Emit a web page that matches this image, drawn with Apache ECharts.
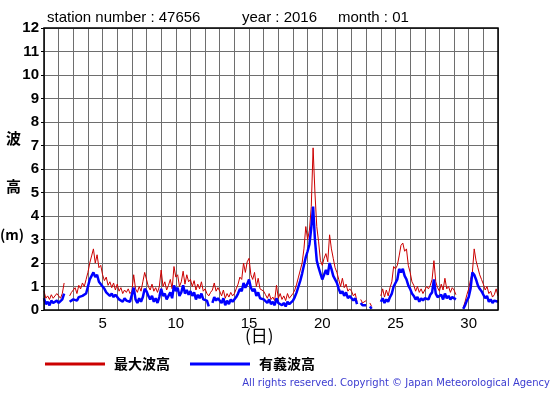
<!DOCTYPE html>
<html><head><meta charset="utf-8">
<script src="https://cdn.jsdelivr.net/npm/echarts@6/dist/echarts.min.js"></script>
<style>html,body{margin:0;padding:0;background:#fff}#c{width:555px;height:395px}</style>
</head><body><div id="c"></div>
<script>
// 3-hourly samples starting at day 1.000 (8 per day), last value at day 32.0
const startDay = 1;
const perDay = 8;
const maxWave = [
 0.8,0.5,0.6,0.45,0.65,0.5,0.55,0.7,
 0.6,0.5,0.7,1.15,null,null,0.6,0.75,
 0.8,0.95,0.7,1.05,0.9,1.15,1.0,1.3,
 1.6,2.0,2.3,2.6,2.0,2.35,1.8,1.9,
 1.5,1.25,1.4,1.05,1.2,0.95,1.15,0.85,
 1.1,0.8,0.95,0.7,0.85,0.75,0.9,0.7,
 0.8,1.5,0.9,0.75,1.0,0.8,1.2,1.6,
 1.65,1.0,0.85,1.1,0.8,0.95,0.75,1.0,
 1.7,1.0,1.2,0.85,1.05,1.3,0.9,1.85,
 1.4,1.5,1.0,1.2,1.65,1.1,1.5,1.2,
 1.3,1.0,1.25,0.85,1.1,0.9,1.2,0.8,
 0.9,0.7,0.6,0.75,0.85,1.15,0.8,0.95,
 0.8,0.6,0.85,0.5,0.7,0.55,0.75,0.6,
 0.7,0.9,1.1,1.4,1.3,2.0,1.6,2.05,
 2.2,1.5,1.3,1.6,1.0,1.35,0.9,0.85,
 0.8,0.65,0.5,0.7,0.45,0.55,0.4,1.05,
 0.5,0.7,0.45,0.6,0.4,0.7,0.5,0.45,
 0.7,0.85,1.1,1.4,1.7,2.0,2.6,3.55,
 3.0,3.4,4.4,6.9,5.0,3.55,2.9,2.1,
 1.9,2.2,2.4,2.05,3.2,2.6,2.2,1.8,
 1.6,1.3,1.0,1.35,0.95,1.1,0.8,0.9,
 0.8,0.6,0.7,0.35,null,0.45,0.3,0.35,
 0.4,null,0.3,0.15,null,null,null,null,
 0.6,0.9,0.55,0.85,0.6,0.95,1.2,1.85,
 1.75,1.9,2.3,2.75,2.85,2.5,2.6,1.9,
 1.6,1.2,1.05,0.8,1.0,0.75,0.9,0.7,
 0.85,1.0,0.9,1.05,1.3,2.1,1.2,0.95,
 0.8,1.1,0.85,1.35,0.9,1.0,0.75,0.95,
 0.85,0.65,null,0.15,null,0.1,0.35,0.65,
 0.9,1.3,1.6,2.6,2.1,1.8,1.5,1.3,
 1.1,0.85,1.0,0.7,0.8,0.55,0.65,0.9,
 0.6
];
const sigWave = [
 0.5,0.25,0.35,0.2,0.4,0.3,0.35,0.4,
 0.3,0.35,0.45,0.7,null,null,0.35,0.4,
 0.45,0.5,0.4,0.55,0.5,0.6,0.55,0.7,
 1.0,1.3,1.45,1.6,1.4,1.5,1.2,1.15,
 1.0,0.9,0.75,0.8,0.6,0.7,0.55,0.65,
 0.55,0.45,0.5,0.35,0.5,0.4,0.45,0.35,
 0.4,0.95,0.45,0.3,0.5,0.35,0.55,0.9,
 0.8,0.6,0.45,0.6,0.35,0.5,0.3,0.55,
 0.9,0.6,0.7,0.45,0.6,0.75,0.5,1.05,
 0.8,0.95,0.6,0.75,1.05,0.7,0.85,0.65,
 0.8,0.6,0.75,0.45,0.65,0.5,0.7,0.45,
 0.5,0.4,0.15,null,0.3,0.55,0.4,0.5,
 0.45,0.3,0.5,0.2,0.4,0.25,0.45,0.35,
 0.4,0.55,0.7,0.9,0.8,1.15,0.95,1.1,
 1.3,0.95,0.8,0.9,0.6,0.75,0.5,0.55,
 0.45,0.4,0.3,0.45,0.25,0.35,0.2,0.5,
 0.3,0.35,0.2,0.3,0.15,0.35,0.25,0.2,
 0.4,0.55,0.75,1.0,1.25,1.55,1.9,2.25,
 2.5,2.8,3.5,4.4,3.0,2.1,1.8,1.55,
 1.3,1.5,1.7,1.5,2.0,1.75,1.45,1.3,
 1.15,0.9,0.7,0.8,0.6,0.75,0.5,0.6,
 0.55,0.4,0.5,0.25,null,0.3,0.2,0.25,
 0.2,null,0.15,0.05,null,null,null,null,
 0.35,0.5,0.3,0.45,0.35,0.55,0.7,1.0,
 1.05,1.3,1.75,1.6,1.75,1.45,1.3,1.05,
 0.9,0.7,0.6,0.45,0.55,0.35,0.5,0.4,
 0.5,0.55,0.45,0.65,0.75,1.3,0.7,0.55,
 0.5,0.65,0.45,0.7,0.5,0.6,0.45,0.55,
 0.5,0.45,null,0.1,null,0.05,0.2,0.4,
 0.55,0.9,1.6,1.5,1.3,1.05,0.9,0.8,
 0.65,0.5,0.6,0.35,0.45,0.3,0.4,0.45,
 0.35
];
const seriesNames = ['最大波高', '有義波高'];
const xLabelDays = [5, 10, 15, 20, 25, 30];
const titleParts = ['station number : 47656', 'year : 2016', 'month : 01'];
const yTitle = ['波', '高', '(m)'];
const xTitle = '(日)';
const copyright = 'All rights reserved. Copyright © Japan Meteorological Agency';

const toPts = arr => arr.map((v, i) => [startDay + i / perDay, v == null ? '-' : v]);
const chart = echarts.init(document.getElementById('c'), null, {renderer: 'canvas'});
const num = '"Liberation Sans", Arial, sans-serif';
const cjk = '"Noto Sans CJK JP", sans-serif';
chart.setOption({
  animation: false,
  backgroundColor: '#fff',
  grid: {left: 44, right: 57, top: 28, bottom: 85},
  xAxis: {
    type: 'value', min: 1, max: 32, interval: 1,
    axisLine: {show: false},
    axisTick: {show: false},
    splitLine: {show: true, lineStyle: {color: '#6e6e6e', width: 1}},
    axisLabel: {
      color: '#000', fontFamily: num, fontSize: 15, margin: 6,
      formatter: v => xLabelDays.includes(v) ? String(v) : ''
    }
  },
  yAxis: {
    type: 'value', min: 0, max: 12, interval: 1,
    axisLine: {show: false},
    axisTick: {show: true, length: 3, lineStyle: {color: '#000'}},
    splitLine: {show: true, lineStyle: {color: '#6e6e6e', width: 1}},
    axisLabel: {color: '#000', fontFamily: num, fontSize: 15, fontWeight: 'bold', margin: 5}
  },
  legend: {
    left: 45, top: 357, padding: 0, icon: 'rect', itemWidth: 60, itemHeight: 3, itemGap: 20,
    textStyle: {fontFamily: cjk, fontSize: 14, fontWeight: 'bold', color: '#000', padding: [0, 0, 0, 4]},
    data: seriesNames
  },
  series: [
    {name: seriesNames[0], type: 'line', data: toPts(maxWave), showSymbol: false,
     lineStyle: {color: '#cc0000', width: 1}, itemStyle: {color: '#cc0000'}, z: 2},
    {name: seriesNames[1], type: 'line', data: toPts(sigWave), showSymbol: false,
     lineStyle: {color: '#0000ff', width: 2.5}, itemStyle: {color: '#0000ff'}, z: 3}
  ],
  graphic: [
    {type: 'rect', shape: {x: 44, y: 28, width: 454, height: 282}, z: 10,
     style: {fill: 'none', stroke: '#000', lineWidth: 1.5}},
    {type: 'text', left: 47, top: 10, style: {text: titleParts[0], font: '15px ' + num, fill: '#000'}},
    {type: 'text', left: 242, top: 10, style: {text: titleParts[1], font: '15px ' + num, fill: '#000'}},
    {type: 'text', left: 338, top: 10, style: {text: titleParts[2], font: '15px ' + num, fill: '#000'}},
    {type: 'text', left: 6, top: 131, style: {text: yTitle[0], font: 'bold 15px ' + cjk, fill: '#000'}},
    {type: 'text', left: 6, top: 179, style: {text: yTitle[1], font: 'bold 15px ' + cjk, fill: '#000'}},
    {type: 'text', left: 0, top: 228, style: {text: yTitle[2], font: 'bold 14px ' + cjk, fill: '#000'}},
    {type: 'text', left: 245, top: 327, style: {text: xTitle, font: '17px ' + cjk, fill: '#000'}},
    {type: 'text', right: 5, top: 378, style: {text: copyright, font: '10px "DejaVu Sans", sans-serif', fill: '#3b3bd0'}}
  ]
});
</script></body></html>
